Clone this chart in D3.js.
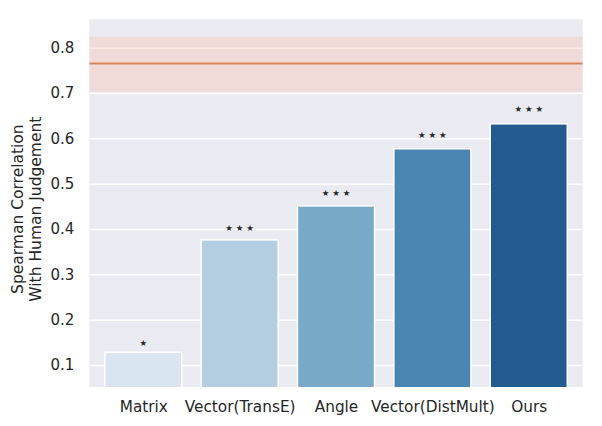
<!DOCTYPE html>
<html>
<head>
<meta charset="utf-8">
<script src="https://cdn.jsdelivr.net/npm/d3@7"></script>
<style>
  html, body { margin: 0; padding: 0; background: #ffffff; }
  svg { display: block; }
  text { font-family: "DejaVu Sans", sans-serif; fill: #262626; }
</style>
</head>
<body>
<svg id="chart" width="602" height="426"></svg>
<script>
// ---- data ----
const categories = ["Matrix", "Vector(TransE)", "Angle", "Vector(DistMult)", "Ours"];
const correlations = [0.128, 0.376, 0.451, 0.577, 0.632];
const significanceStars = [1, 3, 3, 3, 3];
const barColors = ["#d9e6f2", "#b3cee1", "#78a9c9", "#4b85b2", "#235b91"];
const humanAgreement = 0.765;
const humanBandLow = 0.703;
const humanBandHigh = 0.824;
const yTicks = [0.1, 0.2, 0.3, 0.4, 0.5, 0.6, 0.7, 0.8];
const yLabelLines = ["Spearman Correlation", "With Human Judgement"];

// ---- layout ----
const svg = d3.select("#chart");
const pLeft = 89.3, pRight = 582.7, pTop = 19.3, pBottom = 387;

const x = d3.scaleLinear().domain([-0.56, categories.length - 1 + 0.56]).range([pLeft, pRight]);
const y = d3.scaleLinear().domain([0.0515, 0.8626]).range([pBottom, pTop]);
const barW = (x(1) - x(0)) * 0.8;

svg.append("clipPath").attr("id", "plotclip")
  .append("rect").attr("x", pLeft).attr("y", pTop).attr("width", pRight - pLeft).attr("height", pBottom - pTop);

// background
svg.append("rect").attr("x", pLeft).attr("y", pTop).attr("width", pRight - pLeft).attr("height", pBottom - pTop)
  .attr("fill", "#eaeaf2");

// grid + y axis labels
const gY = svg.append("g").attr("transform", `translate(${pLeft},0)`)
  .call(d3.axisLeft(y).tickValues(yTicks).tickSize(-(pRight - pLeft)).tickPadding(15).tickFormat(d3.format(".1f")));
gY.select(".domain").remove();
gY.selectAll(".tick line").attr("stroke", "#ffffff").attr("stroke-width", 1.5);
gY.selectAll(".tick text").attr("font-size", "15px").attr("fill", "#262626")
  .style("font-family", "'DejaVu Sans', sans-serif");

// x labels (no vertical grid)
const gX = svg.append("g").attr("transform", `translate(0,${pBottom})`)
  .call(d3.axisBottom(x).tickValues(d3.range(categories.length)).tickSize(0).tickPadding(14)
    .tickFormat(i => categories[i]));
gX.select(".domain").remove();
gX.selectAll(".tick line").remove();
gX.selectAll(".tick text").attr("font-size", "15.3px").attr("fill", "#262626")
  .style("font-family", "'DejaVu Sans', sans-serif");

// human band
const plot = svg.append("g").attr("clip-path", "url(#plotclip)");
plot.append("rect")
  .attr("x", pLeft).attr("width", pRight - pLeft)
  .attr("y", y(humanBandHigh)).attr("height", y(humanBandLow) - y(humanBandHigh))
  .attr("fill", "#ffbfaa").attr("fill-opacity", 0.35);

plot.append("line")
  .attr("x1", pLeft).attr("x2", pRight)
  .attr("y1", y(humanAgreement)).attr("y2", y(humanAgreement))
  .attr("stroke", "#dd8452").attr("stroke-width", 2);

// bars
plot.selectAll("rect.bar").data(correlations).join("rect")
  .attr("class", "bar")
  .attr("x", (d, i) => x(i) - barW / 2)
  .attr("width", barW)
  .attr("y", d => y(d))
  .attr("height", d => y(0) - y(d))
  .attr("fill", (d, i) => barColors[i])
  .attr("stroke", "#ffffff").attr("stroke-width", 1.5);

// stars
const starSpacing = 10.5;
correlations.forEach((v, i) => {
  const n = significanceStars[i];
  const cy = y(v * 1.0234 + 0.018);
  for (let k = 0; k < n; k++) {
    svg.append("text")
      .attr("x", x(i) + (k - (n - 1) / 2) * starSpacing)
      .attr("y", cy)
      .attr("dy", "0.36em")
      .attr("text-anchor", "middle")
      .attr("font-size", "8.5px")
      .text("★");
  }
});

// y label
const yl = svg.append("text")
  .attr("transform", `translate(23,${(pTop + pBottom) / 2 + 6}) rotate(-90)`)
  .attr("text-anchor", "middle")
  .attr("font-size", "15.5px");
yLabelLines.forEach((line, k) => {
  yl.append("tspan").attr("x", 0).attr("y", k * 17.5).text(line);
});
</script>
</body>
</html>
